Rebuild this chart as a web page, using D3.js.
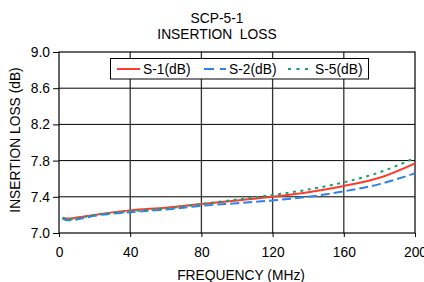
<!DOCTYPE html>
<html><head><meta charset="utf-8">
<script src="https://cdn.jsdelivr.net/npm/d3@7"></script>
<style>body{margin:0;background:#fff}svg{display:block;font-family:"Liberation Sans",Arial,sans-serif}</style>
</head><body>
<svg id="c" width="424" height="282"></svg>
<script>
const freq = [2, 5, 10, 20, 40, 60, 80, 100, 120, 140, 160, 180, 200];
const s1 = [7.17, 7.16, 7.17, 7.20, 7.25, 7.28, 7.32, 7.36, 7.40, 7.45, 7.52, 7.61, 7.77];
const s2 = [7.16, 7.14, 7.15, 7.19, 7.23, 7.26, 7.30, 7.33, 7.36, 7.40, 7.46, 7.54, 7.66];
const s5 = [7.17, 7.15, 7.16, 7.20, 7.24, 7.27, 7.32, 7.37, 7.42, 7.48, 7.56, 7.67, 7.83];
const xTicks = [0, 40, 80, 120, 160, 200];
const yTicks = [7.0, 7.4, 7.8, 8.2, 8.6, 9.0];
const seriesNames = ["S-1(dB)", "S-2(dB)", "S-5(dB)"];
const titleLines = ["SCP-5-1", "INSERTION  LOSS"];

const svg = d3.select("#c");
const L = 59, R = 415, T = 52, B = 233;
const x = d3.scaleLinear().domain([0, 200]).range([L, R]);
const y = d3.scaleLinear().domain([7.0, 9.0]).range([B, T]);
const fs = 13.8;

// grid
svg.append("g").selectAll("line").data(yTicks.slice(1, -1)).join("line")
  .attr("x1", L).attr("x2", R).attr("y1", d => y(d)).attr("y2", d => y(d))
  .attr("stroke", "#000").attr("stroke-width", 1);
svg.append("g").selectAll("line").data(xTicks.slice(1, -1)).join("line")
  .attr("y1", T).attr("y2", B).attr("x1", d => x(d)).attr("x2", d => x(d))
  .attr("stroke", "#333").attr("stroke-width", 1.3);

// axes
const xAxis = svg.append("g").attr("transform", `translate(0,${B})`)
  .call(d3.axisBottom(x).tickValues(xTicks).tickFormat(d3.format("d")).tickSize(4).tickPadding(10));
const yAxis = svg.append("g").attr("transform", `translate(${L},0)`)
  .call(d3.axisLeft(y).tickValues(yTicks).tickFormat(d3.format(".1f")).tickSize(6).tickPadding(3));
[xAxis, yAxis].forEach(g => {
  g.select(".domain").remove();
  g.selectAll("line").attr("stroke", "#000");
  g.selectAll("text").attr("font-size", fs).attr("fill", "#000")
   .attr("font-family", '"Liberation Sans",Arial,sans-serif');
});
svg.append("rect").attr("x", L).attr("y", T).attr("width", R - L).attr("height", B - T)
  .attr("fill", "none").attr("stroke", "#000").attr("stroke-width", 1.2);

// series
const colors = ["#ff3b2f", "#2f80f0", "#17a06a"];
const dashes = [null, "9,4", "3,4.5"];
const data = [s1, s2, s5];
const line = d3.line().x((d, i) => x(freq[i])).y(d => y(d)).curve(d3.curveMonotoneX);
const plot = svg.append("g");
plot.append("clipPath").attr("id", "clp").append("rect").attr("x", L).attr("y", T).attr("width", R - L).attr("height", B - T);
[0, 1, 2].forEach(k => {
  plot.append("path").datum(data[k]).attr("d", line).attr("fill", "none")
    .attr("stroke", colors[k]).attr("stroke-width", 2)
    .attr("stroke-dasharray", dashes[k]).attr("clip-path", "url(#clp)");
});

// legend
const lg = svg.append("g");
lg.append("rect").attr("x", 110.5).attr("y", 58.5).attr("width", 258).attr("height", 20.5)
  .attr("fill", "#fff").attr("stroke", "#000").attr("stroke-width", 1);
const lx = [117, 204, 288];
const lt = [143, 229, 315];
const legDash = [null, "10,6", "3,5.5"];
seriesNames.forEach((n, k) => {
  lg.append("line").attr("x1", lx[k]).attr("x2", lt[k] - 3).attr("y1", 69).attr("y2", 69)
    .attr("stroke", colors[k]).attr("stroke-width", 2).attr("stroke-dasharray", legDash[k]);
  lg.append("text").attr("x", lt[k]).attr("y", 74).attr("font-size", fs).text(n);
});

// titles
titleLines.forEach((t, i) => {
  svg.append("text").attr("x", 217).attr("y", 22.5 + i * 16.5).attr("text-anchor", "middle")
    .attr("font-size", fs).style("white-space", "pre").text(t);
});
svg.append("text").attr("x", 241).attr("y", 280).attr("text-anchor", "middle")
  .attr("font-size", fs).text("FREQUENCY (MHz)");
svg.append("text").attr("transform", "translate(20,140) rotate(-90)").attr("text-anchor", "middle")
  .attr("font-size", fs).text("INSERTION LOSS (dB)");
</script>
</body></html>
